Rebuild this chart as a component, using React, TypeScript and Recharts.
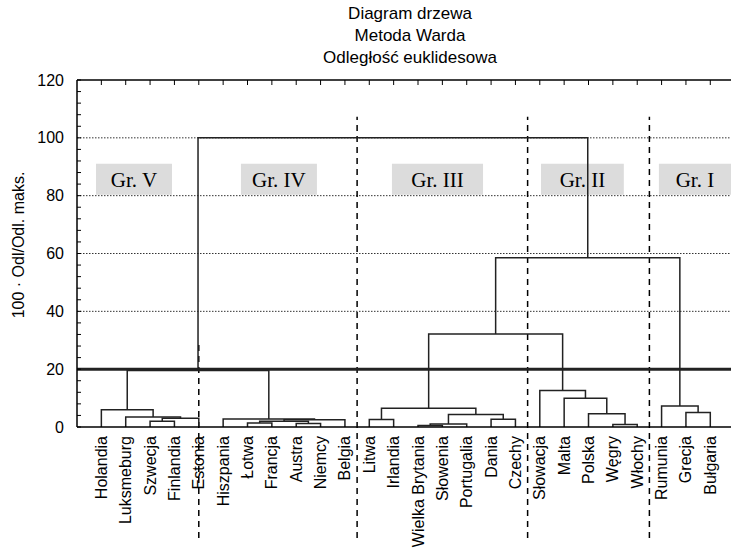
import React from "react";
import { ComposedChart, Line, XAxis, YAxis, ReferenceLine, ReferenceArea } from "recharts";

const leaves = [
  "Holandia", "Luksmeburg", "Szwecja", "Finlandia", "Estonia",
  "Hiszpania", "Łotwa", "Francja", "Austra", "Niemcy", "Belgia",
  "Litwa", "Irlandia", "Wielka Brytania", "Słowenia", "Portugalia", "Dania", "Czechy",
  "Słowacja", "Malta", "Polska", "Węgry", "Włochy",
  "Rumunia", "Grecja", "Bułgaria",
];

// merges: [left, right, linkage distance]; "#k" = k-th merge (1-based)
const merges: [string, string, number][] = [
  ["Szwecja", "Finlandia", 2.0], // #1
  ["#1", "Estonia", 3.0], // #2
  ["Luksmeburg", "#2", 3.5], // #3
  ["Holandia", "#3", 6.0], // #4
  ["Łotwa", "Francja", 1.4], // #5
  ["Austra", "Niemcy", 1.2], // #6
  ["#5", "#6", 2.0], // #7
  ["#7", "Belgia", 2.5], // #8
  ["Hiszpania", "#8", 2.8], // #9
  ["#4", "#9", 19.5], // #10
  ["Litwa", "Irlandia", 2.6], // #11
  ["Wielka Brytania", "Słowenia", 0.5], // #12
  ["#12", "Portugalia", 1.0], // #13
  ["Dania", "Czechy", 2.7], // #14
  ["#13", "#14", 4.3], // #15
  ["#11", "#15", 6.5], // #16
  ["Węgry", "Włochy", 0.9], // #17
  ["Polska", "#17", 4.6], // #18
  ["Malta", "#18", 9.9], // #19
  ["Słowacja", "#19", 12.6], // #20
  ["#16", "#20", 32.2], // #21
  ["Grecja", "Bułgaria", 5.0], // #22
  ["Rumunia", "#22", 7.3], // #23
  ["#21", "#23", 58.5], // #24
  ["#10", "#24", 100], // #25
];

const groupNames = ["Gr. V", "Gr. IV", "Gr. III", "Gr. II", "Gr. I"];
const groupSpans: [number, number][] = [
  [0.78, 3.9], [6.73, 9.85], [12.93, 16.67], [19.05, 22.45], [23.89, 26.85],
];
const cutPositions = [5, 11.5, 18.5, 23.5];
const gridValues = [40, 60, 80, 100];
const cutLevel = 20;

const yTicks = Array.from({ length: 31 }, (_, i) => i * 4);
const leafTicks = leaves.map((_, i) => i + 1);

// build the link polylines
const pos: Record<string, number> = {};
const hgt: Record<string, number> = {};
leaves.forEach((n, i) => {
  pos[n] = i + 1;
  hgt[n] = 0;
});
const links = merges.map(([a, b, h], i) => {
  const id = "#" + (i + 1);
  const pts = [
    { x: pos[a], y: hgt[a] },
    { x: pos[a], y: h },
    { x: pos[b], y: h },
    { x: pos[b], y: hgt[b] },
  ];
  pos[id] = (pos[a] + pos[b]) / 2;
  hgt[id] = h;
  return pts;
});

const SANS = "'Liberation Sans', Arial, sans-serif";
const SERIF = "'Liberation Serif', 'Times New Roman', serif";
const X_DOMAIN: [number, number] = [0, 26.85];

function LeafTick({ x, y, payload }: any) {
  return (
    <text
      x={x}
      y={y}
      transform={`rotate(-90 ${x} ${y})`}
      textAnchor="end"
      dominantBaseline="central"
      fontSize={16}
      fontFamily={SANS}
      fill="#000"
    >
      {leaves[payload.value - 1]}
    </text>
  );
}

function ValueTick({ x, y, payload }: any) {
  const v = payload.value;
  return (
    <g>
      <line x1={x + 13} x2={x + 17} y1={y} y2={y} stroke="#000" strokeWidth={1} />
      {v % 20 === 0 && (
        <text x={x} y={y} textAnchor="end" dominantBaseline="central" fontSize={16} fontFamily={SANS} fill="#000">
          {v}
        </text>
      )}
    </g>
  );
}

function TopTick({ x, payload }: any) {
  return <line x1={x} x2={x} y1={80} y2={85} stroke="#000" strokeWidth={1} key={payload.value} />;
}

export default function App() {
  return (
    <div style={{ position: "absolute", left: 0, top: 0, width: 731, height: 550, background: "#fff" }}>
      <div
        style={{
          position: "absolute",
          left: 260,
          top: 3,
          width: 300,
          textAlign: "center",
          fontFamily: SANS,
          fontSize: 17,
          lineHeight: "22px",
        }}
      >
        <div>Diagram drzewa</div>
        <div>Metoda Warda</div>
        <div>Odległość euklidesowa</div>
      </div>
      <div
        style={{
          position: "absolute",
          left: 19,
          top: 245,
          transform: "translate(-50%, -50%) rotate(-90deg)",
          whiteSpace: "nowrap",
          fontFamily: SANS,
          fontSize: 16,
        }}
      >
        100 · Odl/Odl. maks.
      </div>
      <ComposedChart width={731} height={550} margin={{ top: 60, right: 0, bottom: 0, left: 0 }}>
        <XAxis
          xAxisId="top"
          orientation="top"
          type="number"
          dataKey="x"
          domain={X_DOMAIN}
          allowDataOverflow
          ticks={leafTicks}
          interval={0}
          height={20}
          tickSize={0}
          tick={<TopTick />}
          axisLine={false}
          tickLine={false}
        />
        <XAxis
          xAxisId="bottom"
          type="number"
          dataKey="x"
          domain={X_DOMAIN}
          allowDataOverflow
          ticks={leafTicks}
          interval={0}
          height={123}
          tickSize={0}
          tickMargin={9}
          tick={<LeafTick />}
          axisLine={{ stroke: "#000", strokeWidth: 1.5 }}
          tickLine={false}
        />
        <YAxis
          type="number"
          domain={[0, 120]}
          ticks={yTicks}
          interval={0}
          width={77}
          tickSize={0}
          tickMargin={13}
          tick={<ValueTick />}
          axisLine={{ stroke: "#000", strokeWidth: 1.5 }}
          tickLine={false}
        />
        <ReferenceLine xAxisId="bottom" y={120} stroke="#000" strokeWidth={1.5} />
        {gridValues.map((v) => (
          <ReferenceLine
            key={v}
            xAxisId="bottom"
            y={v}
            stroke="#333"
            strokeWidth={1}
            strokeDasharray="1.5 1.5"
          />
        ))}
        {groupNames.map((g, i) => (
          <ReferenceArea
            key={g}
            xAxisId="bottom"
            x1={groupSpans[i][0]}
            x2={groupSpans[i][1]}
            y1={80.3}
            y2={91}
            fill="#dcdcdc"
            fillOpacity={1}
            stroke="none"
            ifOverflow="visible"
            label={{
              content: ({ viewBox }: any) => (
                <text
                  x={viewBox.x + viewBox.width / 2}
                  y={viewBox.y + viewBox.height / 2 + 1}
                  textAnchor="middle"
                  dominantBaseline="central"
                  fontSize={21}
                  fontFamily={SERIF}
                  fill="#000"
                >
                  {g}
                </text>
              ),
            }}
          />
        ))}
        {cutPositions.map((c) => (
          <ReferenceLine
            key={c}
            xAxisId="bottom"
            segment={[
              { x: c, y: -38.4 },
              { x: c, y: c === 5 ? 30 : 107.3 },
            ]}
            ifOverflow="visible"
            stroke="#000"
            strokeWidth={1.5}
            strokeDasharray="6 5"
          />
        ))}
        <ReferenceLine xAxisId="bottom" y={cutLevel} stroke="#222" strokeWidth={3} />
        {links.map((pts, i) => (
          <Line
            key={i}
            xAxisId="bottom"
            data={pts}
            dataKey="y"
            type="linear"
            stroke="#222"
            strokeWidth={1.5}
            dot={false}
            activeDot={false}
            isAnimationActive={false}
          />
        ))}
      </ComposedChart>
    </div>
  );
}
